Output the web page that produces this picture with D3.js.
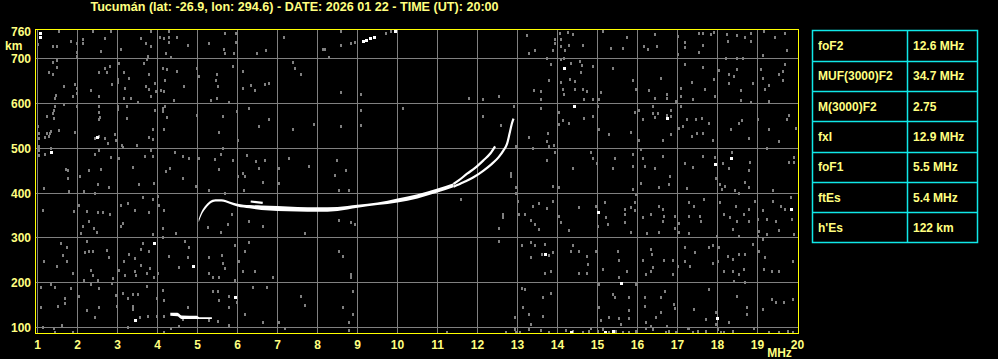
<!DOCTYPE html>
<html>
<head>
<meta charset="utf-8">
<script src="https://cdn.jsdelivr.net/npm/d3@7/dist/d3.min.js"></script>
<style>
    html, body { margin: 0; padding: 0; background: #000; }
    svg { display: block; }
    text { font-family: "Liberation Sans", Arial, sans-serif; font-weight: bold; font-size: 12px; fill: #ffff80; }
    .title { font-size: 12.6px; }
</style>
</head>
<body>
<div id="chart"></div>
<script>
const title = "Tucumán (lat: -26.9, lon: 294.6) - DATE: 2026 01 22 - TIME (UT): 20:00";

const freqTicks = d3.range(1, 21);
const heightTicks = [100, 200, 300, 400, 500, 600, 700, 760];
const gridHeights = [100, 200, 300, 400, 500, 600, 700];

const paramNames = ["foF2", "MUF(3000)F2", "M(3000)F2", "fxI", "foF1", "ftEs", "h'Es"];
const paramValues = ["12.6 MHz", "34.7 MHz", "2.75", "12.9 MHz", "5.5 MHz", "5.4 MHz", "122 km"];

// F trace (thick part), MHz / km top / km bottom
const fBandFreq = [5.03, 5.1, 5.2, 5.3, 5.45, 5.6, 5.8, 6.0, 6.3, 6.6, 7.0, 7.5, 8.0, 8.5, 9.0, 9.5, 10.0, 10.5, 11.0, 11.4];
const fBandTop  = [342, 358, 372, 381, 386, 386, 381, 376, 373, 372, 371, 369, 368, 369, 374, 379, 388, 397, 410, 422];
const fBandBot  = [335, 351, 365, 375, 381, 381, 376, 370, 366, 362, 360, 359, 358, 360, 367, 373, 379, 388, 401, 413];

// the two branches near the critical frequency
const oBranch = [[11.4, 420], [11.53, 428], [11.74, 443], [11.94, 456], [12.15, 473], [12.32, 488], [12.44, 504]];
const xBranch = [[11.4, 414], [11.65, 424], [11.9, 435], [12.15, 450], [12.36, 465], [12.53, 480], [12.65, 495], [12.74, 510], [12.8, 532], [12.86, 555], [12.9, 566]];
const upperBit = [[6.33, 381], [6.63, 378]];

// sporadic E trace
const eFreq = [4.32, 4.5, 4.6, 4.98, 5.05, 5.36];
const eTop  = [133, 133, 127, 126, 123, 123];
const eBot  = [126, 125, 119, 119, 119, 119];

// isolated strong echoes
const whiteDots = [[1.07, 757], [1.07, 749], [1.33, 491], [2.48, 524], [3.92, 288], [4.88, 238], [5.93, 167], [3.44, 116],
    [9.13, 740], [9.2, 741], [9.3, 746], [9.4, 748], [9.93, 762], [14.17, 678], [14.42, 594], [16.73, 568], [17.93, 464],
    [18.33, 478], [15.0, 357], [13.68, 265], [15.58, 200], [19.83, 365], [17.98, 121], [14.33, 89], [15.18, 89], [15.38, 93]];

// background noise, low band (1-10 MHz)
const noiseLow = [
    [1.53,762],[2.38,762],[2.83,762],[3.83,762],[4.29,762],[5.68,757],[5.96,757],[7.17,749],[8.58,762],[9.71,757],[9.83,762],
    [1.83,740],[2.13,743],[2.13,734],[2.68,745],[3.58,745],[3.71,734],[3.83,727],[4.06,749],[4.17,745],[4.28,749],[4.48,749],
    [4.28,736],[4.75,730],[5.29,734],[5.96,736],[1.38,727],[1.48,728],[1.0,732],[1.98,734],[1.98,715],[1.98,706],[2.58,717],
    [3.08,721],[3.75,706],[3.73,700],[4.21,712],[4.33,704],[5.67,721],[5.68,712],[5.92,712],[6.48,712],[6.71,719],[8.13,721],
    [8.2,721],[8.28,704],[8.58,730],[8.83,734],[8.94,737],
    [1.38,693],[1.48,697],[1.48,680],[1.29,670],[1.38,666],[2.53,670],[2.68,678],[2.81,684],[2.73,670],[3.04,691],[3.17,670],
    [3.29,657],[3.0,654],[3.67,691],[3.78,666],[4.13,678],[4.23,676],[4.48,672],[4.99,678],[5.03,661],[5.48,666],[5.46,652],
    [5.88,684],[6.13,672],[5.5,639],[6.13,634],[6.33,640],[6.43,630],[6.68,643],[6.79,646],[7.38,693],[7.43,678],[7.58,666],
    [8.58,625],[9.08,620],[1.67,639],[1.94,643],[1.98,635],[1.98,624],[1.88,616],[1.46,618],[1.44,613],[2.33,630],[2.53,616],
    [2.86,644],[3.0,648],[3.18,635],[3.17,613],[3.33,613],[3.5,603],[3.71,639],[3.93,646],[3.96,628],[3.78,631],[3.83,616],
    [4.08,630],[4.17,628],[4.18,652],[4.42,607],[4.67,639],[5.33,607],[5.48,613],[5.79,603],
    [1.43,593],[1.42,585],[1.38,578],[1.42,568],[1.23,572],[1.67,598],[1.98,594],[2.53,594],[2.53,581],[2.57,570],[2.53,566],
    [3.0,593],[3.0,587],[3.23,593],[3.23,568],[3.93,585],[4.13,590],[4.13,583],[4.23,570],[4.18,594],[4.98,575],[5.63,572],
    [5.98,583],[6.29,590],[6.53,549],[6.78,566],[7.38,543],[7.92,555],[8.58,549],[9.08,585],[9.08,551],[10.13,589],[1.0,549],
    [1.03,534],[1.03,523],[1.19,525],[1.23,534],[1.29,527],[1.31,533],[1.33,538],[1.53,540],[1.93,536],[2.44,523],[2.54,527],
    [2.68,523],[2.75,512],[2.94,531],[2.96,519],[3.1,508],[3.14,503],[3.48,508],[3.79,525],[3.88,521],[3.88,543],[4.17,543],
    [5.53,536],[6.02,518],
    [1.03,505],[1.03,495],[1.03,485],[1.33,501],[1.18,486],[1.71,454],[1.77,452],[1.77,434],[2.07,437],[2.28,451],[2.44,486],
    [2.53,496],[2.58,454],[2.83,481],[3.03,478],[3.38,458],[3.69,482],[3.83,496],[3.89,482],[4.21,449],[4.32,456],[4.44,491],
    [4.63,482],[4.63,434],[4.78,478],[5.03,478],[5.43,475],[5.53,454],[5.59,486],[5.63,501],[5.88,473],[6.02,437],[6.14,445],
    [6.18,437],[6.23,484],[6.46,471],[6.53,456],[6.68,473],[7.03,456],[7.29,478],[7.79,460],[8.43,441],[8.48,473],[8.71,451],
    [1.17,411],[1.78,404],[2.17,404],[2.44,401],[2.5,420],[2.78,414],[3.53,419],[3.92,422],[4.96,416],[5.29,407],[5.69,401],
    [6.17,407],[6.63,424],[7.03,422],[8.53,407],[8.78,407],
    [1.13,362],[1.92,359],[2.04,374],[2.23,359],[2.5,357],[2.63,357],[2.81,353],[3.08,374],[3.25,377],[3.43,362],[3.63,390],
    [3.79,357],[3.88,387],[4.0,394],[4.03,374],[4.17,361],[2.13,327],[2.28,337],[2.08,310],[2.42,323],[2.48,314],[3.08,327],
    [3.13,332],[4.13,323],[5.27,325],[5.58,314],[5.75,331],[5.86,353],[6.28,337],[6.63,327],[7.68,310],[8.53,340],[8.83,335],
    [8.94,331],
    [1.58,288],[1.73,280],[2.23,294],[2.29,271],[2.19,268],[2.38,271],[2.73,273],[2.78,257],[3.17,248],[3.28,265],[3.44,255],
    [3.58,275],[3.63,288],[3.78,271],[3.88,309],[4.13,301],[4.29,260],[4.46,310],[4.68,294],[4.78,279],[4.75,257],[4.54,234],
    [1.17,249],[1.48,238],[1.63,262],[1.73,248],[1.88,221],[2.33,228],[2.39,216],[2.17,206],[2.5,206],[2.88,210],[3.04,228],
    [3.19,218],[3.44,227],[3.46,216],[3.58,240],[3.73,221],[3.81,233],[3.92,212],[4.0,221],[5.29,257],[5.61,262],[5.64,243],
    [5.68,233],[5.29,221],[5.38,212],[5.53,212],[5.93,206],[5.94,283],[6.04,248],[6.13,227],[6.19,271],[6.28,290],[6.43,225],
    [6.89,212],[8.53,271],[8.63,260],[8.83,219],[8.83,212],
    [1.08,191],[1.33,197],[1.43,191],[1.83,188],[2.03,171],[2.33,196],[2.53,188],[2.86,199],[2.96,173],[3.14,176],[3.25,166],
    [3.38,175],[3.5,175],[3.73,193],[3.98,166],[4.14,184],[4.15,161],[1.69,166],[1.69,154],[1.08,146],[1.5,149],[2.23,138],
    [2.53,146],[2.44,124],[2.98,149],[3.38,149],[3.38,141],[3.56,123],[3.75,126],[3.98,126],[4.17,126],[4.53,104],[4.63,119],
    [4.75,146],[4.33,100],[5.29,117],[5.38,182],[5.5,181],[5.5,115],[5.53,161],[5.78,171],[5.78,146],[5.78,106],[5.98,156],
    [6.19,130],[6.38,190],[6.73,190],[6.63,112],[7.03,112],[7.18,98],[7.58,171],[7.68,151],[8.63,146],[8.88,182],[8.88,130],
    [8.78,112],[8.78,95],[1.13,102],[1.42,100],[1.43,89],[1.61,106],[1.88,89],[4.17,89],[3.25,102]
];

// background noise, high band (10-20 MHz)
const noiseHigh = [
    [13.23,753],[13.43,719],[13.29,712],[13.94,743],[13.94,734],[14.07,757],[14.08,743],[14.08,728],[14.18,719],[14.26,760],
    [14.29,730],[14.38,754],[14.63,730],[15.13,762],[15.33,723],[15.63,723],[15.73,749],[16.17,727],[16.25,721],[16.43,754],
    [16.48,727],[17.0,751],[17.0,710],[17.18,737],[17.18,725],[17.53,757],[17.53,715],[17.63,757],[17.63,730],[17.83,754],
    [17.9,760],[18.23,754],[18.25,740],[18.48,752],[18.65,702],[18.69,747],[18.83,757],[18.83,740],[19.15,762],[19.43,747],
    [19.68,757],[19.73,719],[19.13,707],[18.21,702],[18.48,702],[13.73,702],[13.88,719],[14.17,702],
    [13.83,687],[14.08,699],[14.33,691],[14.57,695],[14.61,685],[14.58,669],[14.88,684],[14.08,648],[14.13,631],[14.15,620],
    [14.32,655],[14.44,650],[14.44,631],[14.63,631],[14.73,628],[14.67,609],[14.88,609],[15.03,609],[15.08,625],[15.38,678],
    [15.89,652],[15.96,631],[16.29,630],[16.43,613],[16.58,657],[16.73,620],[16.73,613],[16.96,605],[17.08,635],[17.08,616],
    [17.19,687],[17.36,648],[17.38,610],[17.63,682],[17.69,633],[17.92,654],[17.93,616],[18.03,675],[18.28,666],[18.28,646],
    [18.42,661],[18.48,676],[18.58,629],[18.58,607],[18.83,603],[18.89,646],[19.08,676],[19.13,657],[19.18,631],[19.28,640],
    [19.29,605],[19.54,666],[19.63,672],[19.68,687],[19.63,652],[13.42,630],[13.58,628],[13.78,652],[13.58,610],[12.92,593],
    [12.53,616],[12.13,609],[11.78,611],
    [13.58,590],[14.03,581],[14.14,563],[14.28,557],[14.67,568],[14.88,572],[15.0,594],[15.03,542],[15.29,531],[15.83,536],
    [16.03,519],[15.93,581],[16.03,585],[16.13,564],[16.39,593],[16.39,579],[16.44,570],[16.52,579],[16.73,575],[16.83,585],
    [16.83,572],[16.64,519],[16.83,531],[17.03,546],[17.13,549],[17.08,594],[17.23,566],[17.36,528],[17.46,564],[17.48,534],
    [17.61,568],[17.63,534],[17.78,557],[17.88,519],[18.33,542],[18.53,557],[18.61,563],[18.79,523],[19.0,564],[19.28,542],
    [19.53,515],[19.73,564],[19.78,575],[19.96,546],[12.14,572],[12.58,551],[13.29,525],[13.75,534],[13.78,505],[13.92,506],
    [14.03,553],[13.73,516],
    [13.73,473],[13.94,491],[14.38,456],[14.83,491],[14.88,478],[14.98,467],[15.43,478],[15.38,456],[15.88,486],[15.88,461],
    [16.08,499],[16.13,478],[16.19,460],[16.44,456],[16.63,482],[16.81,437],[17.19,466],[17.38,458],[17.63,482],[17.93,481],
    [17.96,434],[18.13,467],[18.29,456],[18.36,491],[18.82,469],[18.79,451],[19.78,469],[19.25,501],[12.83,445],[12.83,437],
    [12.96,505],[13.38,501],[19.92,480],[19.92,470],
    [12.96,413],[12.96,401],[13.88,416],[14.03,413],[15.88,409],[15.96,398],[16.08,422],[16.54,414],[16.79,420],[17.23,411],
    [18.06,420],[18.11,409],[18.19,416],[18.44,407],[18.53,401],[18.79,413],[19.38,407],[18.69,424],
    [11.58,387],[12.63,353],[12.63,346],[12.54,323],[13.0,383],[13.03,353],[13.19,353],[13.38,372],[13.33,340],[13.44,331],
    [13.54,377],[13.53,320],[13.73,367],[13.88,383],[14.03,349],[14.08,335],[14.28,317],[14.53,368],[14.96,372],[15.0,327],
    [15.19,379],[15.21,346],[15.25,331],[15.69,364],[15.69,335],[15.69,353],[15.83,368],[15.83,312],[15.93,379],[15.93,362],
    [16.13,346],[16.23,310],[16.33,353],[16.53,372],[16.53,314],[16.63,364],[16.63,338],[16.67,349],[16.93,349],[16.93,323],
    [17.04,332],[17.04,314],[17.28,381],[17.28,349],[17.28,310],[17.42,372],[17.57,349],[17.58,338],[17.67,387],[17.98,305],
    [18.06,379],[18.17,353],[18.32,346],[18.38,320],[18.46,372],[18.48,337],[18.53,305],[18.67,353],[18.78,364],[18.78,337],
    [18.94,383],[19.0,342],[19.03,316],[19.13,361],[19.23,309],[19.25,342],[19.38,383],[19.46,337],[19.54,317],[19.58,372],
    [19.69,364],[19.86,342],[19.92,309],[19.83,390],[19.13,297],[19.0,303],
    [12.54,292],[13.11,283],[13.33,290],[13.44,283],[13.61,265],[13.69,286],[13.78,262],[13.88,268],[13.33,257],[14.38,283],
    [14.33,271],[14.53,270],[14.73,260],[14.75,242],[14.96,271],[15.52,271],[15.53,250],[15.73,225],[15.53,212],[16.33,275],
    [16.35,264],[16.38,236],[16.33,227],[16.13,251],[16.21,219],[16.67,251],[16.88,251],[16.88,219],[17.0,238],[17.18,279],
    [17.18,249],[17.31,238],[17.44,268],[17.78,279],[17.89,283],[17.88,243],[18.0,249],[18.04,279],[18.25,260],[18.39,253],
    [18.38,227],[18.53,265],[18.54,219],[18.69,265],[18.67,230],[18.69,201],[18.88,286],[19.04,271],[19.19,258],[19.36,225],
    [19.54,227],[19.88,249],[19.17,230],[18.17,227],[18.42,204],[15.13,230],[13.69,221],[13.83,225],[14.54,221],[14.73,221],
    [13.11,188],[13.19,186],[13.63,169],[13.83,178],[13.13,146],[12.94,124],[13.29,130],[13.63,126],[13.33,108],[13.28,100],
    [15.03,197],[15.03,146],[15.08,117],[15.29,123],[15.38,175],[15.44,167],[15.53,121],[15.58,108],[15.78,167],[15.78,138],
    [15.78,121],[15.96,197],[16.19,167],[16.19,149],[16.21,112],[16.33,104],[16.46,123],[16.58,167],[16.58,134],[16.69,181],
    [16.73,104],[16.92,152],[16.93,143],[17.28,100],[17.42,141],[17.71,119],[17.78,186],[17.96,134],[17.96,108],[18.28,112],
    [18.48,171],[18.73,145],[18.73,130],[19.13,141],[19.36,164],[19.46,156],[19.67,156],[19.88,164],
    [11.23,89],[12.71,91],[12.94,97],[12.96,89],[13.06,91],[13.29,97],[13.58,94],[13.79,91],[14.21,94],[14.38,93],[14.63,91],
    [14.83,100],[14.79,93],[15.0,93],[15.13,97],[15.29,91],[15.46,93],[15.63,89],[15.79,91],[15.96,93],[16.21,100],[16.38,97],
    [16.71,91],[16.79,93],[16.96,91],[17.25,100],[17.38,89],[17.5,93],[17.71,93],[18.0,97],[18.08,91],[18.17,89],[18.38,93],
    [18.92,100],[19.29,89],[19.54,91],[19.75,93],[19.88,89]
];

const width = 998, height = 359;
const frame = { left: 35, right: 798, top: 29, bottom: 333 };

const svg = d3.select("#chart").append("svg")
    .attr("width", width)
    .attr("height", height);

svg.append("rect").attr("width", width).attr("height", height).attr("fill", "#000");

const x = d3.scaleLinear().domain([1, 20]).range([37.5, 797.5]);
const y = d3.scaleLinear().domain([100, 700]).range([327.5, 58.5]);

// title
svg.append("text")
    .attr("class", "title")
    .attr("x", 294.5).attr("y", 11)
    .attr("text-anchor", "middle")
    .text(title);

// grid
const grid = svg.append("g").attr("shape-rendering", "crispEdges")
    .attr("stroke", "#808080").attr("stroke-width", 1);
grid.selectAll(".vg").data(freqTicks.filter(f => f < 20)).enter().append("line")
    .attr("x1", d => Math.floor(x(d)) + 0.5).attr("x2", d => Math.floor(x(d)) + 0.5)
    .attr("y1", frame.top).attr("y2", frame.bottom);
grid.selectAll(".hg").data(gridHeights).enter().append("line")
    .attr("x1", frame.left).attr("x2", frame.right)
    .attr("y1", d => Math.floor(y(d)) + 0.5).attr("y2", d => Math.floor(y(d)) + 0.5);

// noise
const allNoise = noiseLow.concat(noiseHigh);
svg.append("g").selectAll("rect").data(allNoise).enter().append("rect")
    .attr("x", d => Math.round(x(d[0])) - 1)
    .attr("y", d => Math.round(y(d[1])) - 1)
    .attr("width", 2).attr("height", 3)
    .attr("fill", "#808080");

// traces
const band = d3.area()
    .x(d => x(d[0])).y0(d => y(d[2])).y1(d => y(d[1]))
    .curve(d3.curveMonotoneX);
const traceLine = d3.line()
    .x(d => x(d[0])).y(d => y(d[1]))
    .curve(d3.curveMonotoneX);

const fBand = fBandFreq.map((f, i) => [f, fBandTop[i], fBandBot[i]]);
const eBand = eFreq.map((f, i) => [f, eTop[i], eBot[i]]);

const traces = svg.append("g");
traces.append("path").attr("d", band(fBand)).attr("fill", "#fff");
traces.append("path").attr("d", band(eBand)).attr("fill", "#fff");
[oBranch, xBranch, upperBit].forEach(b => {
    traces.append("path").attr("d", traceLine(b))
        .attr("fill", "none").attr("stroke", "#fff").attr("stroke-width", 2.2);
});
traces.selectAll(".wd").data(whiteDots).enter().append("rect")
    .attr("x", d => Math.round(x(d[0])) - 1)
    .attr("y", d => Math.round(y(d[1])) - 1)
    .attr("width", 3).attr("height", 3)
    .attr("fill", "#fff");

// frame
svg.append("rect")
    .attr("x", frame.left + 0.5).attr("y", frame.top + 0.5)
    .attr("width", frame.right - frame.left).attr("height", frame.bottom - frame.top)
    .attr("fill", "none").attr("stroke", "#ffff00").attr("stroke-width", 1.5)
    .attr("shape-rendering", "crispEdges");

// axis labels
svg.append("g").selectAll("text").data(freqTicks).enter().append("text")
    .attr("x", d => x(d)).attr("y", 349)
    .attr("text-anchor", "middle")
    .text(d => d);
svg.append("text").attr("x", 779.5).attr("y", 357).attr("text-anchor", "middle").text("MHz");

svg.append("g").selectAll("text").data(heightTicks).enter().append("text")
    .attr("x", 31).attr("y", d => y(d) + 4.5)
    .attr("text-anchor", "end")
    .text(d => d);
svg.append("text").attr("x", 5).attr("y", 50).text("km");

// parameter table
const rows = d3.scaleBand().domain(paramNames).range([30.5, 242.5]);
const table = svg.append("g");
table.append("rect")
    .attr("x", 812.5).attr("y", 30.5).attr("width", 165).attr("height", 212)
    .attr("fill", "none").attr("stroke", "#10e8e8").attr("stroke-width", 1.5);
table.append("line")
    .attr("x1", 907.5).attr("x2", 907.5).attr("y1", 30.5).attr("y2", 242.5)
    .attr("stroke", "#10e8e8").attr("stroke-width", 1.5);
table.selectAll(".rl").data(paramNames.slice(1)).enter().append("line")
    .attr("x1", 812.5).attr("x2", 977.5)
    .attr("y1", d => Math.round(rows(d)) + 0.5).attr("y2", d => Math.round(rows(d)) + 0.5)
    .attr("stroke", "#10e8e8").attr("stroke-width", 1.5);
table.selectAll(".pn").data(paramNames).enter().append("text")
    .attr("x", 818).attr("y", d => rows(d) + rows.bandwidth() / 2 + 4.5)
    .text(d => d);
table.selectAll(".pv").data(paramValues).enter().append("text")
    .attr("x", 913).attr("y", (d, i) => rows(paramNames[i]) + rows.bandwidth() / 2 + 4.5)
    .text(d => d);
</script>
</body>
</html>
